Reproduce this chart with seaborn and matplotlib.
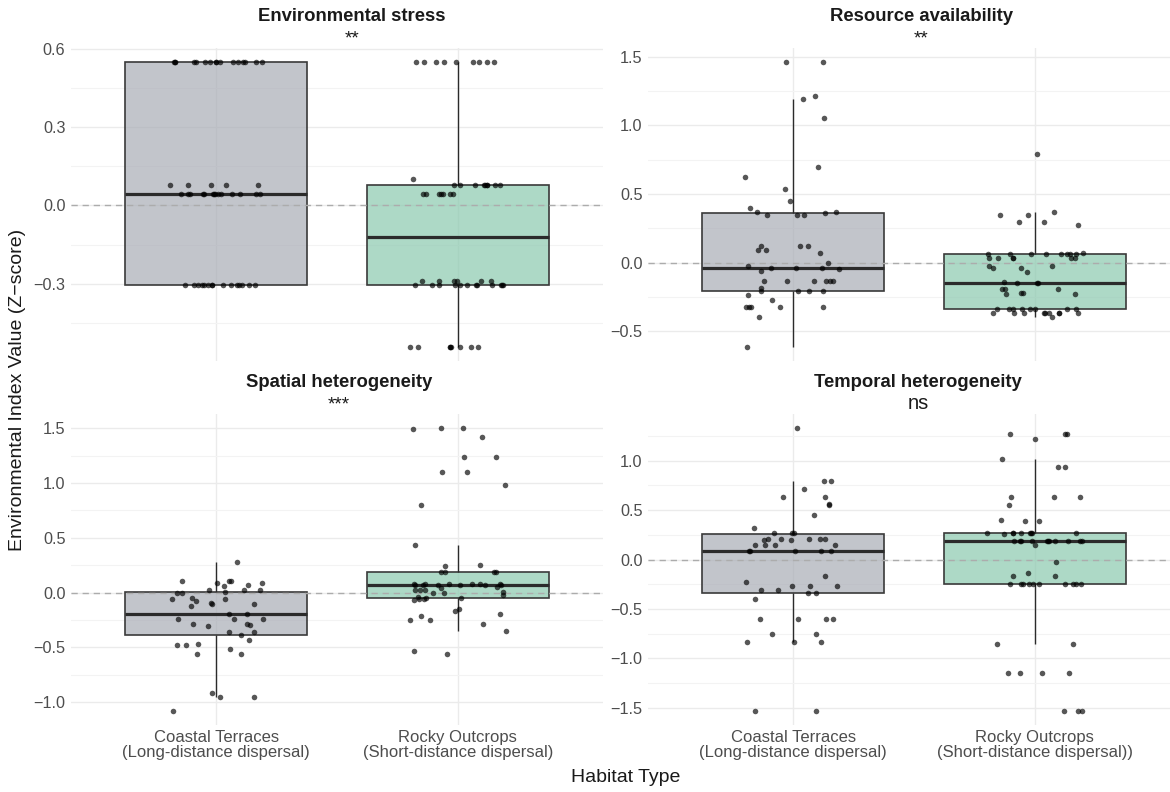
import numpy as np
import pandas as pd
import matplotlib
matplotlib.use("Agg")
import matplotlib.pyplot as plt
from matplotlib.ticker import FixedLocator, FuncFormatter
import seaborn as sns

# ---------------- data ----------------
habitats = ["Coastal Terraces", "Rocky Outcrops"]
panel_titles = ["Environmental stress", "Resource availability",
                "Spatial heterogeneity", "Temporal heterogeneity"]
panel_signif = ["**", "**", "***", "ns"]
xtick_labels_left = ["Coastal Terraces\n(Long-distance dispersal)",
                     "Rocky Outcrops\n(Short-distance dispersal)"]
xtick_labels_right = ["Coastal Terraces\n(Long-distance dispersal)",
                      "Rocky Outcrops\n(Short-distance dispersal))"]
major_ticks = [[-0.3, 0.0, 0.3, 0.6],
               [-0.5, 0.0, 0.5, 1.0, 1.5],
               [-1.0, -0.5, 0.0, 0.5, 1.0, 1.5],
               [-1.5, -1.0, -0.5, 0.0, 0.5, 1.0]]
minor_ticks = [[-0.45, -0.15, 0.15, 0.45],
               [-0.25, 0.25, 0.75, 1.25],
               [-0.75, -0.25, 0.25, 0.75, 1.25],
               [-1.25, -0.75, -0.25, 0.25, 0.75, 1.25]]

stress_coastal = [0.549, 0.549, 0.549, 0.549, 0.549, 0.549, 0.549, 0.549,
                  0.549, 0.549, 0.549, 0.549, 0.549, 0.549, 0.549, 0.549,
                  0.077, 0.077, 0.077, 0.077, 0.077,
                  0.045, 0.045, 0.045, 0.045, 0.045, 0.045, 0.045, 0.045,
                  0.045, 0.045, 0.045, 0.045, 0.045, 0.045,
                  -0.305, -0.305, -0.305, -0.305, -0.305, -0.305, -0.305, -0.305,
                  -0.305, -0.305, -0.305, -0.305, -0.305, -0.305, -0.305]
stress_rocky = [-0.542, -0.542, -0.542, -0.542, -0.542, -0.542, -0.542, -0.542,
                -0.305, -0.305, -0.305, -0.305, -0.305, -0.305, -0.305, -0.305,
                -0.305, -0.305, -0.305, -0.305,
                -0.288, -0.288, -0.288, -0.288, -0.288, -0.288,
                0.045, 0.045, 0.045, 0.045, 0.045, 0.045, 0.045,
                0.077, 0.077, 0.077, 0.077, 0.077, 0.077, 0.077, 0.077, 0.077,
                0.103,
                0.549, 0.549, 0.549, 0.549, 0.549, 0.549, 0.549, 0.549, 0.549]

resource_coastal = [1.459, 1.459, 1.188, 1.215, 1.051, 0.698, 0.622, 0.539,
                    0.451, 0.395, 0.346, 0.346, 0.363, 0.368, 0.368, 0.346,
                    0.122, 0.095, 0.095, 0.122, 0.122, 0.071, 0.000, -0.027,
                    -0.041, -0.040, -0.045, -0.038, -0.061,
                    -0.134, -0.134, -0.134, -0.134, -0.134, -0.134,
                    -0.203, -0.203, -0.203, -0.203, -0.183, -0.234, -0.271,
                    -0.324, -0.324, -0.324, -0.324, -0.324, -0.393, -0.612]
resource_rocky = [0.790, 0.368, 0.346, 0.346, 0.298, 0.298, 0.271, 0.073,
                  0.061, 0.061, 0.061, 0.061, 0.061, 0.061, 0.061, 0.061,
                  0.034, 0.034, 0.034, 0.034, 0.034, 0.034,
                  -0.027, -0.027, -0.040, -0.040, -0.066, -0.139,
                  -0.151, -0.151, -0.151, -0.188, -0.188, -0.188,
                  -0.217, -0.224, -0.227, -0.227,
                  -0.335, -0.335, -0.335, -0.335, -0.335, -0.335, -0.335, -0.335,
                  -0.366, -0.366, -0.366, -0.366, -0.366, -0.366, -0.366, -0.366,
                  -0.366, -0.393]

spatial_coastal = [0.283, 0.103, 0.103, 0.088, 0.021, 0.021, -0.061, -0.061,
                   -0.243, -0.283, -0.356, -0.385, -0.480, -0.563, -0.046, 0.003,
                   0.000, -0.103, -0.103, -0.094, -0.243, -0.240, -0.195, -0.200,
                   -0.125, 0.021, -0.009, 0.073, 0.061, -0.082, 0.088, 0.103,
                   -0.283, -0.292, -0.304, -0.356, -0.429, -0.480, -0.514, -0.468,
                   -0.563, -0.952, -0.921, -0.952, -1.080]
spatial_rocky = [1.500, 1.500, 1.493, 1.423, 1.238, 1.238, 1.104, 1.104,
                 0.979, 0.800, 0.432, 0.250, 0.240, 0.190, 0.190, 0.190, 0.190,
                 0.082, 0.043, 0.024, 0.000, -0.024, 0.076, 0.021, 0.070,
                 0.046, -0.049, 0.070, 0.064, 0.006, -0.046, -0.070, 0.076,
                 0.000, 0.076, 0.064, -0.061, 0.021, -0.061, 0.076, 0.064,
                 0.076, 0.064, -0.040,
                 -0.146, -0.216, -0.252, -0.283, -0.192, -0.170, -0.252,
                 -0.350, -0.535, -0.557]

temporal_coastal = [1.329, 0.796, 0.796, 0.715, 0.634, 0.634, 0.553, 0.560,
                    0.452, 0.314, 0.273, 0.273, 0.273,
                    0.206, 0.206, 0.206, 0.206, 0.206, 0.196, 0.196,
                    0.142, 0.142, 0.142, 0.142,
                    0.084, 0.084, 0.084, 0.084, 0.084,
                    -0.169, -0.223, -0.270, -0.304, -0.304, -0.270, -0.270,
                    -0.342, -0.342, -0.401, -0.600, -0.600, -0.600, -0.600,
                    -0.752, -0.752, -0.833, -0.833, -0.833, -1.531, -1.531]
temporal_rocky = [1.268, 1.268, 1.268, 1.218, 1.019, 0.934, 0.934,
                  0.634, 0.634, 0.634, 0.553, 0.398, 0.388, 0.388,
                  0.273, 0.273, 0.273, 0.273, 0.273, 0.273, 0.273, 0.273,
                  0.255,
                  0.185, 0.185, 0.185, 0.185, 0.185, 0.185, 0.185, 0.185,
                  0.185, 0.185, 0.185,
                  0.142, -0.027, -0.135, -0.169, -0.169,
                  -0.246, -0.246, -0.246, -0.246, -0.246, -0.246, -0.246,
                  -0.246, -0.246, -0.246,
                  -0.853, -0.853, -1.147, -1.147, -1.147, -1.147,
                  -1.531, -1.531, -1.531]

panel_data = [(stress_coastal, stress_rocky),
              (resource_coastal, resource_rocky),
              (spatial_coastal, spatial_rocky),
              (temporal_coastal, temporal_rocky)]

rows = []
for title, (vc, vr) in zip(panel_titles, panel_data):
    for v in vc:
        rows.append((title, habitats[0], v))
    for v in vr:
        rows.append((title, habitats[1], v))
df = pd.DataFrame(rows, columns=["Index", "Habitat", "Value"])

# ---------------- style ----------------
box_colors = ["#a7acb8", "#81d3b0"]   # drawn with alpha 0.7
plt.rcParams["font.family"] = ["Liberation Sans", "DejaVu Sans"]

W, H = 1170, 792
fig = plt.figure(figsize=(W / 100, H / 100), dpi=100)
fig.patch.set_facecolor("white")

rects_px = [(71, 48, 532, 313), (648, 48, 532, 313),
            (71, 414, 532, 311), (648, 414, 532, 311)]
title_cx = [352, 921, 339, 918]

np.random.seed(7)

def fmt(v, p):
    if abs(v) < 1e-9:
        return "0.0"
    return f"{v:.1f}".replace("-", "\u2212")

for i, (title, sig) in enumerate(zip(panel_titles, panel_signif)):
    l, t, w, h = rects_px[i]
    ax = fig.add_axes([l / W, 1 - (t + h) / H, w / W, h / H])
    sub = df[df["Index"] == title]

    sns.boxplot(data=sub, x="Habitat", y="Value", hue="Habitat",
                order=habitats, hue_order=habitats, palette=box_colors,
                width=0.75, showfliers=False, showcaps=False,
                linewidth=1.2, linecolor="#3a3a3a",
                medianprops=dict(linewidth=2.3, color="#2b2b2b"),
                whiskerprops=dict(linewidth=1.0, color="#2b2b2b"),
                legend=False, ax=ax, zorder=2)
    for patch in ax.patches:
        fc = patch.get_facecolor()
        patch.set_facecolor((fc[0], fc[1], fc[2], 0.7))

    ax.axhline(0, color="#acacac", linestyle=(0, (4.5, 3.5)),
               linewidth=1.0, zorder=2.5)

    sns.stripplot(data=sub, x="Habitat", y="Value", order=habitats,
                  color="black", alpha=0.66, size=4.0, jitter=0.2,
                  linewidth=0, ax=ax, zorder=3)

    lo, hi = sub["Value"].min(), sub["Value"].max()
    pad = 0.05 * (hi - lo)
    ax.set_ylim(lo - pad, hi + pad)
    ax.set_xlim(-0.6, 1.6)

    ax.yaxis.set_major_locator(FixedLocator(major_ticks[i]))
    ax.yaxis.set_minor_locator(FixedLocator(minor_ticks[i]))
    ax.yaxis.set_major_formatter(FuncFormatter(fmt))
    ax.set_axisbelow(True)
    ax.grid(True, which="major", axis="both", color="#ebebeb", linewidth=1.0, zorder=0)
    ax.grid(True, which="minor", axis="y", color="#f3f3f3", linewidth=0.8, zorder=0)
    ax.xaxis.grid(True, which="major", color="#ebebeb", linewidth=1.0)

    for s in ax.spines.values():
        s.set_visible(False)
    ax.tick_params(axis="both", which="both", length=0)
    ax.tick_params(axis="y", labelsize=11.7, labelcolor="#4d4d4d", pad=4)
    ax.tick_params(axis="x", labelsize=12, labelcolor="#4d4d4d", pad=3.5)
    ax.set_xlabel("")
    ax.set_ylabel("")
    ax.set_facecolor("white")

    ax.set_xticks([0, 1])
    if i >= 2:
        labels = xtick_labels_left if i == 2 else xtick_labels_right
        ax.set_xticklabels(labels)
        for lab in ax.get_xticklabels():
            lab.set_linespacing(1.05)
    else:
        ax.set_xticklabels(["", ""])

    cx = title_cx[i] / W
    fig.text(cx, 1 - (t - 27) / H, title, ha="center", va="baseline",
             fontsize=13.3, fontweight="bold", color="#1a1a1a")
    fig.text(cx, 1 - (t - 5) / H, sig, ha="center", va="baseline",
             fontsize=14.5 if sig == "ns" else 13.5, color="#1a1a1a")

fig.text(18 / W, 1 - 390 / H, "Environmental Index Value (Z\u2212score)",
         rotation=90, ha="center", va="center", fontsize=14, color="#1a1a1a")
fig.text(626 / W, 1 - 778 / H, "Habitat Type", ha="center", va="center",
         fontsize=14, color="#1a1a1a")

fig.savefig("out.png", dpi=100, facecolor="white")
